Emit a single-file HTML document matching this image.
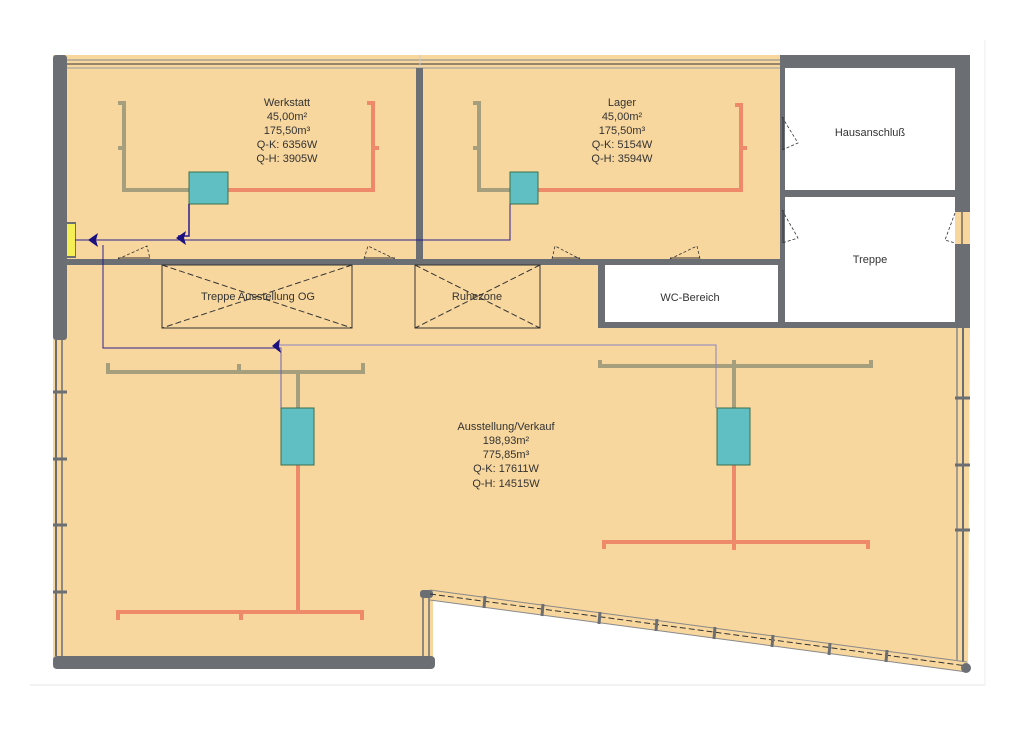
<!DOCTYPE html><html><head><meta charset="utf-8"><style>body{margin:0;background:#fff}svg{display:block}text{font-family:"Liberation Sans",sans-serif;font-size:11px;fill:#333;text-anchor:middle}</style></head><body>
<svg width="1024" height="731" viewBox="0 0 1024 731">
<rect x="0" y="0" width="1024" height="731" fill="#fff"/>
<line x1="30" y1="685" x2="985" y2="685" stroke="#e4e4e4"/>
<line x1="985" y1="40" x2="985" y2="685" stroke="#eee"/>
<polygon points="53,55 780,55 780,262 598,262 598,328 970,328 968,672 433,600 433,668 53,668" fill="#f8d79e"/>
<rect x="780" y="55" width="190" height="273" fill="#6b6e73"/>
<rect x="785" y="68" width="170" height="122" fill="#fff"/>
<rect x="785" y="197" width="170" height="125" fill="#fff"/>
<rect x="598" y="262" width="187" height="66" fill="#6b6e73"/>
<rect x="605" y="265" width="173" height="57" fill="#fff"/>
<line x1="60" y1="60" x2="780" y2="60" stroke="#888" stroke-width="1"/>
<line x1="60" y1="64" x2="780" y2="64" stroke="#333" stroke-width="1"/>
<line x1="60" y1="68" x2="780" y2="68" stroke="#999" stroke-width="1"/>
<line x1="420" y1="55" x2="420" y2="68" stroke="#ccc"/>
<rect x="53" y="55" width="14" height="285" rx="3" fill="#6b6e73"/>
<rect x="416" y="68" width="7" height="195" fill="#6b6e73"/>
<rect x="53" y="259" width="727" height="6" fill="#6b6e73"/>
<rect x="53" y="656" width="382" height="13" rx="4" fill="#6b6e73"/>
<rect x="420" y="590" width="13" height="8" rx="3" fill="#6b6e73"/>
<line x1="56" y1="340" x2="56" y2="656" stroke="#6b6e73" stroke-width="2"/>
<line x1="62" y1="340" x2="62" y2="656" stroke="#6b6e73" stroke-width="1.5"/>
<g stroke="#6b6e73" stroke-width="3"><line x1="53" y1="392" x2="67" y2="392"/><line x1="53" y1="459" x2="67" y2="459"/><line x1="53" y1="525" x2="67" y2="525"/><line x1="53" y1="592" x2="67" y2="592"/></g>
<line x1="423" y1="598" x2="423" y2="656" stroke="#6b6e73" stroke-width="1.5"/>
<line x1="429" y1="598" x2="429" y2="656" stroke="#6b6e73" stroke-width="1.5"/>
<line x1="957" y1="328" x2="957" y2="660" stroke="#888" stroke-width="1.5"/>
<line x1="963" y1="328" x2="963" y2="662" stroke="#6b6e73" stroke-width="2"/>
<g stroke="#6b6e73" stroke-width="3"><line x1="955" y1="398" x2="970" y2="398"/><line x1="955" y1="465" x2="970" y2="465"/><line x1="955" y1="530" x2="970" y2="530"/></g>
<rect x="955" y="212" width="15" height="32" fill="#f8d79e"/>
<line x1="962" y1="212" x2="962" y2="244" stroke="#333"/>
<line x1="430" y1="590" x2="967" y2="662" stroke="#888" stroke-width="1"/>
<line x1="430" y1="594" x2="967" y2="666" stroke="#333" stroke-width="1" stroke-dasharray="6,3"/>
<line x1="430" y1="600" x2="967" y2="672" stroke="#888" stroke-width="1"/>
<circle cx="966" cy="668" r="5" fill="#6b6e73"/>
<g stroke="#6b6e73" stroke-width="3"><line x1="485" y1="596" x2="484" y2="608"/><line x1="543" y1="604" x2="542" y2="616"/><line x1="600" y1="612" x2="599" y2="624"/><line x1="657" y1="619" x2="656" y2="631"/><line x1="715" y1="627" x2="714" y2="639"/><line x1="773" y1="635" x2="772" y2="647"/><line x1="830" y1="643" x2="829" y2="655"/><line x1="887" y1="650" x2="886" y2="662"/></g>
<g fill="none" stroke="#333" stroke-width="0.8" stroke-dasharray="3,2">
<path d="M118,259 L147,246 L150,259"/><path d="M364,259 L368,246 L395,259"/>
<path d="M552,259 L555,246 L580,259"/><path d="M670,259 L697,246 L700,259"/>
<path d="M782,117 L798,143 L782,150"/><path d="M782,210 L798,238 L782,243"/>
<path d="M955,213 L945,240 L955,243"/>
</g>
<g stroke="#333" stroke-width="1"><line x1="118" y1="258" x2="150" y2="258"/><line x1="364" y1="258" x2="395" y2="258"/><line x1="552" y1="258" x2="580" y2="258"/><line x1="670" y1="258" x2="700" y2="258"/><line x1="783" y1="117" x2="783" y2="150"/><line x1="783" y1="210" x2="783" y2="243"/></g>
<g fill="none" stroke="#333" stroke-width="1">
<rect x="162" y="265" width="190" height="63"/><path d="M162,265 L352,328 M352,265 L162,328" stroke-dasharray="6,3"/>
<rect x="415" y="265" width="125" height="63"/><path d="M415,265 L540,328 M540,265 L415,328" stroke-dasharray="6,3"/>
</g>
<rect x="66" y="222" width="10" height="36" fill="#6b6e73"/>
<rect x="67" y="224" width="8" height="32" fill="#f5ef55"/>
<g stroke="#a59f7e" stroke-width="4" fill="none">
<path d="M118,103 H124 V190 H190 M118,148 H124"/>
<path d="M473,103 H479 V190 H510 M473,148 H479"/>
<path d="M108,363 V372 H363 V363 M239,364 V372 M298,372 V408"/>
<path d="M600,360 V366 H871 V360 M734,360 V408"/>
</g>
<g stroke="#ee8a6a" stroke-width="4" fill="none">
<path d="M228,190 H373 V103 H367 M373,148 H379"/>
<path d="M538,190 H741 V105 H735 M741,148 H747"/>
<path d="M298,465 V612 M118,620 V612 H362 V620 M241,612 V620"/>
<path d="M734,465 V550 M604,549 V542 H868 V549"/>
</g>
<g fill="#5fbfc2" stroke="#3b6f4e" stroke-width="1">
<rect x="189" y="172" width="39" height="32"/><rect x="510" y="172" width="28" height="32"/>
<rect x="281" y="408" width="33" height="57"/><rect x="717" y="408" width="33" height="57"/>
</g>
<g stroke="#2a1f8f" fill="none">
<path d="M189,204 V236 H178" stroke-width="1.5"/>
<path d="M510,204 V240 H75" stroke-width="1"/>
<path d="M103,245 V348 H275" stroke-width="1"/>
<path d="M275,345 H716 V408" stroke="#8a80c0" stroke-width="1"/>
<path d="M275,348 H281 V408" stroke="#6a60b0" stroke-width="1"/>
</g>
<g fill="#1a1080">
<polygon points="88,240 98,233 96,240 98,247"/><polygon points="176,238 186,231 184,238 186,245"/><polygon points="272,346 280,339 279,346 281,353"/>
</g>
<text x="287" y="106">Werkstatt</text><text x="287" y="120">45,00m²</text><text x="287" y="134">175,50m³</text><text x="287" y="148">Q-K: 6356W</text><text x="287" y="162">Q-H: 3905W</text>
<text x="622" y="106">Lager</text><text x="622" y="120">45,00m²</text><text x="622" y="134">175,50m³</text><text x="622" y="148">Q-K: 5154W</text><text x="622" y="162">Q-H: 3594W</text>
<text x="870" y="136">Hausanschluß</text>
<text x="870" y="263">Treppe</text>
<text x="690" y="301">WC-Bereich</text>
<text x="258" y="300">Treppe Ausstellung OG</text>
<text x="477" y="300">Ruhezone</text>
<text x="506" y="430">Ausstellung/Verkauf</text><text x="506" y="444">198,93m²</text><text x="506" y="458">775,85m³</text><text x="506" y="472">Q-K: 17611W</text><text x="506" y="487">Q-H: 14515W</text>
</svg></body></html>
